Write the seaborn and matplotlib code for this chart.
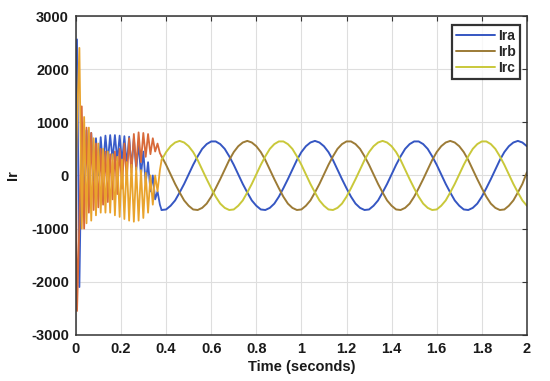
import matplotlib
matplotlib.use("Agg")
import matplotlib.pyplot as plt
import numpy as np
import pandas as pd
import seaborn as sns

# %%
# partida (transitorio): um ponto a cada meio ciclo da oscilacao de ~48 Hz
t_tr = np.r_[0.0, np.linspace(0.005, 0.3725, 36)]
ira_tr = [0, 2560, -2100, 900, -600, 850, -300, 800, -100, 700, 0, 720, 150,
          750, 250, 760, 300, 760, 280, 750, 250, 740, 200, 730, 150, 700,
          100, 620, 0, 450, -150, 250, -300, 0, -450, -300, -550]
irb_tr = [0, -2550, -900, 1300, -1000, 900, -700, 800, -650, 600, -600, 500,
          -550, 450, -500, 400, -450, 450, -350, 500, -250, 600, -100, 700,
          50, 780, 150, 810, 250, 800, 350, 780, 400, 700, 450, 600, 420]
irc_tr = [0, 1000, 2400, -1000, 1100, -900, 900, -850, 700, -750, 600, -700,
          500, -700, 450, -700, 400, -750, 350, -780, 300, -820, 250, -850,
          200, -870, 150, -850, 100, -800, 50, -700, 0, -550, 0, -300, 100]

# regime permanente, passo de 0.02 s
t_ss = np.linspace(0.38, 2.0, 82)
ira_ss = [-650, -640, -570, -470, -320, -160, 20, 200, 360, 500,
          590, 640, 640, 590, 500, 360, 200, 20, -160, -320,
          -470, -570, -640, -650, -610, -530, -400, -240, -70, 110,
          290, 440, 550, 620, 650, 620, 550, 440, 290, 110,
          -70, -240, -400, -530, -610,
          -650, -640, -570, -470, -320, -160, 20, 200, 360, 500,
          590, 640, 640, 590, 500, 360, 200, 20, -160, -320,
          -470, -570, -640, -650, -610, -530, -400, -240, -70, 110,
          290, 440, 550, 620, 650, 620, 550]
irb_ss = [360, 200, 20, -160, -320, -470, -570, -640, -650, -610,
          -530, -400, -240, -70, 110, 290, 440, 550, 620, 650,
          620, 550, 440, 290, 110, -70, -240, -400, -530, -610,
          -650, -640, -570, -470, -320, -160, 20, 200, 360, 500,
          590, 640, 640, 590, 500,
          360, 200, 20, -160, -320, -470, -570, -640, -650, -610,
          -530, -400, -240, -70, 110, 290, 440, 550, 620, 650,
          620, 550, 440, 290, 110, -70, -240, -400, -530, -610,
          -650, -640, -570, -470, -320, -160, 60]
irc_ss = [290, 440, 550, 620, 650, 620, 550, 440, 290, 110,
          -70, -240, -400, -530, -610, -650, -640, -570, -470, -320,
          -160, 20, 200, 360, 500, 590, 640, 640, 590, 500,
          360, 200, 20, -160, -320, -470, -570, -640, -650, -610,
          -530, -400, -240, -70, 110,
          290, 440, 550, 620, 650, 620, 550, 440, 290, 110,
          -70, -240, -400, -530, -610, -650, -640, -570, -470, -320,
          -160, 20, 200, 360, 500, 590, 640, 640, 590, 500,
          360, 200, 20, -160, -320, -470, -570]

fases = ["Ira", "Irb", "Irc"]
cores = ["#3556c2", "#9c7b36", "#c9c83a"]
cores_tr = ["#3a5cc8", "#d86a3a", "#e9a32c"]

# %%
partes_ss, partes_tr = [], []
for nome, tr, ss in zip(fases, [ira_tr, irb_tr, irc_tr], [ira_ss, irb_ss, irc_ss]):
    partes_ss.append(pd.DataFrame({"t": t_ss, "i": ss, "fase": nome}))
    partes_tr.append(pd.DataFrame({"t": np.r_[t_tr, t_ss[0]],
                                   "i": tr + [ss[0]], "fase": nome}))
df_ss = pd.concat(partes_ss, ignore_index=True)
df_tr = pd.concat(partes_tr, ignore_index=True)

# %%
sns.set_theme(style="white")
plt.rcParams["font.family"] = ["Liberation Sans", "DejaVu Sans"]
plt.rcParams["axes.unicode_minus"] = False

fig, ax = plt.subplots(figsize=(5.5, 3.81), dpi=100)
fig.subplots_adjust(left=0.138, right=0.958, top=0.958, bottom=0.121)

sns.lineplot(data=df_ss, x="t", y="i", hue="fase", hue_order=fases,
             palette=cores, estimator=None, sort=False, lw=1.4,
             legend=False, ax=ax)
sns.lineplot(data=df_tr, x="t", y="i", hue="fase", hue_order=fases,
             palette=cores_tr, estimator=None, sort=False, lw=1.3,
             legend=False, ax=ax)

ax.set_xlim(0, 2)
ax.set_ylim(-3000, 3000)
xt = np.arange(0, 2.01, 0.2)
ax.set_xticks(xt)
ax.set_xticklabels([f"{v:g}" for v in np.round(xt, 1)])
ax.set_yticks(np.arange(-3000, 3001, 1000))
ax.grid(True, color="#dedede", lw=0.8)
ax.tick_params(direction="in", top=True, right=True, length=3.5, width=0.8,
               labelsize=10.5, labelcolor="#1a1a1a", color="#333333", pad=5)
for lbl in ax.get_xticklabels() + ax.get_yticklabels():
    lbl.set_fontweight("bold")
for s in ax.spines.values():
    s.set_color("#333333")
    s.set_linewidth(1.1)

ax.set_xlabel("Time (seconds)", fontsize=10.5, fontweight="bold",
              color="#1a1a1a", labelpad=3)
ax.set_ylabel("Ir", fontsize=10.5, fontweight="bold", color="#1a1a1a",
              labelpad=8)

leg = ax.legend(ax.get_lines()[:3], fases, loc="upper right",
                bbox_to_anchor=(0.985, 0.972), borderaxespad=0,
                fancybox=False, frameon=True, handlelength=2.8,
                handletextpad=0.25, labelspacing=0.15, borderpad=0.3,
                prop={"weight": "bold", "size": 10})
leg.get_frame().set_edgecolor("black")
leg.get_frame().set_linewidth(1.6)

fig.savefig("out.png", dpi=100)
